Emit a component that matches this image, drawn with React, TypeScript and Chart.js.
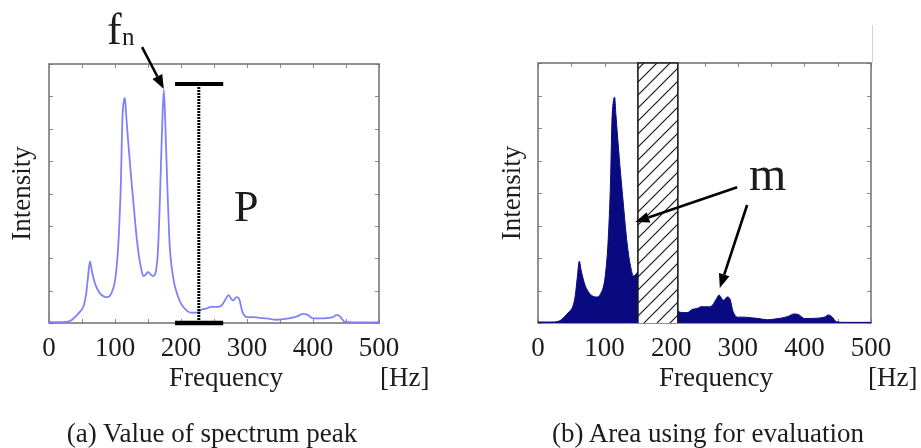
import React, { useEffect, useRef } from "react";
import { Chart, registerables } from "chart.js";

Chart.register(...registerables);

// ---------- data ----------
const FREQ_HZ = [
  0, 10, 20, 30, 35, 40, 47, 52, 56, 59,
  62, 65, 70, 76, 82, 88, 94, 100, 104, 106,
  109, 111, 113, 115, 117, 120, 124, 128, 132, 136,
  140, 143, 147, 150, 154, 158, 162, 165, 168, 171,
  174, 176, 179, 183, 186, 190, 195, 200, 210, 216,
  224, 232, 239, 245, 250, 256, 262, 268, 272, 276,
  279, 284, 288, 293, 300, 310, 320, 330, 345, 355,
  365, 375, 385, 392, 400, 410, 420, 430, 436, 441,
  448, 460, 500,
];
const INTENSITY = [
  0.03, 0.03, 0.03, 0.05, 0.1, 0.2, 0.35, 0.5, 0.85, 1.4,
  1.9, 1.6, 1.2, 0.95, 0.83, 0.8, 0.9, 1.3, 2.1, 2.8,
  4.4, 6.2, 6.8, 6.95, 6.4, 5.6, 4.6, 3.7, 2.8, 2.1,
  1.65, 1.45, 1.5, 1.58, 1.5, 1.45, 1.6, 2.2, 3.8, 5.8,
  7.2, 6.3, 4.4, 2.35, 1.7, 1.2, 0.85, 0.6, 0.36, 0.32,
  0.32, 0.42, 0.45, 0.5, 0.5, 0.5, 0.55, 0.75, 0.86, 0.75,
  0.7, 0.8, 0.75, 0.35, 0.18, 0.18, 0.16, 0.14, 0.1, 0.12,
  0.15, 0.2, 0.28, 0.25, 0.14, 0.14, 0.15, 0.18, 0.25, 0.2,
  0.04, 0.02, 0.02,
];

const X_MIN = 0;
const X_MAX = 500;
const X_LABEL_STEP = 100;
const X_MINOR_TICKS = [0, 50, 100, 150, 200, 250, 300, 350, 400, 450, 500];
const Y_MIN = 0;
const Y_MAX = 8;
const Y_TICKS = [0, 1, 2, 3, 4, 5, 6, 7, 8];

// panel (a): peak value marker P
const P_FREQ = 227;
const P_LEVEL = 7.38;
const P_BAR_FROM = 191;
const P_BAR_TO = 264;

// panel (b): excluded (hatched) band
const BAND_FROM = 150;
const BAND_TO = 210;

// annotation arrows, in data units
const ARROWS_A = [{ x0: 141, y0: 8.52, x1: 174, y1: 7.23 }];
const ARROWS_B = [
  { x0: 299, y0: 4.18, x1: 146, y1: 3.11 },
  { x0: 314, y0: 3.63, x1: 273, y1: 1.08 },
];

// ---------- helpers ----------
const SERIF = "'Liberation Serif', 'Times New Roman', serif";
const TEXT_COLOR = "#1c1c1c";

const points = FREQ_HZ.map((x, i) => ({ x, y: INTENSITY[i] }));

function makeHatch(): CanvasPattern | string {
  const s = 13;
  const c = document.createElement("canvas");
  c.width = s;
  c.height = s;
  const g = c.getContext("2d");
  if (!g) return "#ffffff";
  g.fillStyle = "#ffffff";
  g.fillRect(0, 0, s, s);
  g.strokeStyle = "#1a1a1a";
  g.lineWidth = 1.2;
  g.beginPath();
  g.moveTo(-1, s + 1);
  g.lineTo(s + 1, -1);
  g.moveTo(-1, 1);
  g.lineTo(1, -1);
  g.moveTo(s - 1, s + 1);
  g.lineTo(s + 1, s - 1);
  g.stroke();
  return g.createPattern(c, "repeat") || "#ffffff";
}

type Arrow = { x0: number; y0: number; x1: number; y1: number };

function annotPlugin(arrows: Arrow[]) {
  return {
    id: "annot",
    beforeDatasetsDraw(chart: any) {
      const { ctx, chartArea: a, scales } = chart;
      const x = scales.x;
      const y = scales.y;
      ctx.save();
      ctx.strokeStyle = "#8c8c8c";
      ctx.lineWidth = 1;
      ctx.beginPath();
      for (const v of X_MINOR_TICKS) {
        const px = Math.round(x.getPixelForValue(v)) + 0.5;
        ctx.moveTo(px, a.bottom);
        ctx.lineTo(px, a.bottom - 4);
        ctx.moveTo(px, a.top);
        ctx.lineTo(px, a.top + 4);
      }
      for (const v of Y_TICKS) {
        const py = Math.round(y.getPixelForValue(v)) + 0.5;
        ctx.moveTo(a.left, py);
        ctx.lineTo(a.left + 4, py);
        ctx.moveTo(a.right, py);
        ctx.lineTo(a.right - 4, py);
      }
      ctx.stroke();
      ctx.strokeStyle = "#6f6f6f";
      ctx.lineWidth = 1.5;
      ctx.strokeRect(a.left, a.top, a.right - a.left, a.bottom - a.top);
      ctx.restore();
    },
    afterDatasetsDraw(chart: any) {
      const { ctx, scales } = chart;
      const x = scales.x;
      const y = scales.y;
      ctx.save();
      ctx.strokeStyle = "#000";
      ctx.fillStyle = "#000";
      ctx.lineWidth = 2.6;
      for (const ar of arrows) {
        const sx = x.getPixelForValue(ar.x0);
        const sy = y.getPixelForValue(ar.y0);
        const ex = x.getPixelForValue(ar.x1);
        const ey = y.getPixelForValue(ar.y1);
        const ang = Math.atan2(ey - sy, ex - sx);
        const headLen = 14;
        const headHalf = 5.5;
        const bx = ex - headLen * Math.cos(ang);
        const by = ey - headLen * Math.sin(ang);
        ctx.beginPath();
        ctx.moveTo(sx, sy);
        ctx.lineTo(bx, by);
        ctx.stroke();
        ctx.beginPath();
        ctx.moveTo(ex, ey);
        ctx.lineTo(bx + headHalf * Math.sin(ang), by - headHalf * Math.cos(ang));
        ctx.lineTo(bx - headHalf * Math.sin(ang), by + headHalf * Math.cos(ang));
        ctx.closePath();
        ctx.fill();
      }
      ctx.restore();
    },
  };
}

function scalesFor(yWidth: number, titlePad: number) {
  return {
    x: {
      type: "linear",
      min: X_MIN,
      max: X_MAX,
      ticks: {
        stepSize: X_LABEL_STEP,
        autoSkip: false,
        maxRotation: 0,
        padding: 10,
        color: TEXT_COLOR,
        font: { family: SERIF, size: 27 },
      },
      grid: { display: false, drawTicks: false },
      border: { display: false },
      afterFit: (s: any) => {
        s.height = 125;
      },
    },
    y: {
      type: "linear",
      min: Y_MIN,
      max: Y_MAX,
      ticks: { display: false },
      grid: { display: false, drawTicks: false },
      border: { display: false },
      title: {
        display: true,
        text: "Intensity",
        color: TEXT_COLOR,
        font: { family: SERIF, size: 27 },
        padding: { top: titlePad, bottom: 0 },
      },
      afterFit: (s: any) => {
        s.width = yWidth;
      },
    },
  };
}

function configA(): any {
  return {
    type: "line",
    data: {
      datasets: [
        {
          data: [
            { x: P_BAR_FROM, y: P_LEVEL },
            { x: P_BAR_TO, y: P_LEVEL },
          ],
          borderColor: "#000",
          borderWidth: 4,
          pointRadius: 0,
          clip: false,
        },
        {
          data: [
            { x: P_BAR_FROM, y: 0 },
            { x: P_BAR_TO, y: 0 },
          ],
          borderColor: "#000",
          borderWidth: 4.5,
          pointRadius: 0,
          clip: false,
        },
        {
          data: [
            { x: P_FREQ, y: 0 },
            { x: P_FREQ, y: P_LEVEL },
          ],
          borderColor: "#000",
          borderWidth: 3,
          borderDash: [2, 1],
          pointRadius: 0,
          clip: false,
        },
        {
          data: points,
          borderColor: "#8080ff",
          borderWidth: 1.8,
          pointRadius: 0,
          cubicInterpolationMode: "monotone",
          fill: false,
        },
      ],
    },
    options: {
      animation: false,
      responsive: false,
      devicePixelRatio: 1,
      events: [],
      layout: { padding: { top: 64, right: 81, left: 0, bottom: 0 } },
      plugins: { legend: { display: false }, tooltip: { enabled: false } },
      scales: scalesFor(49, 7),
    },
    plugins: [annotPlugin(ARROWS_A)],
  };
}

function configB(): any {
  const left = points.filter((p) => p.x <= BAND_FROM);
  const right = points.filter((p) => p.x >= BAND_TO);
  const navy = "#0a0a80";
  return {
    type: "line",
    data: {
      datasets: [
        {
          data: [
            { x: BAND_FROM, y: Y_MIN },
            { x: BAND_FROM, y: Y_MAX },
            { x: BAND_TO, y: Y_MAX },
            { x: BAND_TO, y: Y_MIN },
          ],
          borderColor: "#1a1a1a",
          borderWidth: 1.6,
          backgroundColor: makeHatch(),
          fill: "origin",
          pointRadius: 0,
          tension: 0,
          clip: false,
        },
        {
          data: left,
          borderColor: navy,
          borderWidth: 1,
          backgroundColor: navy,
          fill: "origin",
          pointRadius: 0,
          cubicInterpolationMode: "monotone",
        },
        {
          data: right,
          borderColor: navy,
          borderWidth: 1,
          backgroundColor: navy,
          fill: "origin",
          pointRadius: 0,
          cubicInterpolationMode: "monotone",
        },
      ],
    },
    options: {
      animation: false,
      responsive: false,
      devicePixelRatio: 1,
      events: [],
      layout: { padding: { top: 63, right: 50, left: 0, bottom: 0 } },
      plugins: { legend: { display: false }, tooltip: { enabled: false } },
      scales: scalesFor(78, 37),
    },
    plugins: [annotPlugin(ARROWS_B)],
  };
}

function ChartCanvas({
  make,
  left,
  width,
  height,
}: {
  make: () => any;
  left: number;
  width: number;
  height: number;
}) {
  const ref = useRef<HTMLCanvasElement>(null);
  useEffect(() => {
    if (!ref.current) return;
    const chart = new Chart(ref.current, make());
    return () => chart.destroy();
  }, []);
  return (
    <canvas
      ref={ref}
      width={width}
      height={height}
      style={{ position: "absolute", left, top: 0, width, height, display: "block" }}
    />
  );
}

function Txt({
  children,
  left,
  top,
  size,
  center,
}: {
  children: React.ReactNode;
  left: number;
  top: number;
  size: number;
  center?: boolean;
}) {
  const style: React.CSSProperties = {
    position: "absolute",
    top,
    fontFamily: SERIF,
    fontSize: size,
    lineHeight: 1,
    color: TEXT_COLOR,
    whiteSpace: "nowrap",
  };
  if (center) {
    style.left = left - 250;
    style.width = 500;
    style.textAlign = "center";
  } else {
    style.left = left;
  }
  return <div style={style}>{children}</div>;
}

export default function App() {
  return (
    <div
      style={{
        position: "fixed",
        left: 0,
        top: 0,
        width: 921,
        height: 448,
        background: "#fff",
        overflow: "hidden",
      }}
    >
      <ChartCanvas make={configA} left={0} width={460} height={448} />
      <ChartCanvas make={configB} left={460} width={461} height={448} />
      <div
        style={{ position: "absolute", left: 872, top: 25, width: 1, height: 38, background: "#d4d4d4" }}
      />
      {/* panel (a) texts */}
      <Txt left={107} top={8} size={44}>f</Txt>
      <Txt left={122} top={24} size={25}>n</Txt>
      <Txt left={234} top={185} size={44}>P</Txt>
      <Txt left={226} top={364} size={27} center>Frequency</Txt>
      <Txt left={380} top={364} size={27}>[Hz]</Txt>
      <Txt left={212} top={420} size={27} center>(a) Value of spectrum peak</Txt>
      {/* panel (b) texts */}
      <Txt left={749} top={150} size={48}>m</Txt>
      <Txt left={716} top={364} size={27} center>Frequency</Txt>
      <Txt left={868} top={364} size={27}>[Hz]</Txt>
      <Txt left={708} top={420} size={27} center>(b) Area using for evaluation</Txt>
    </div>
  );
}
